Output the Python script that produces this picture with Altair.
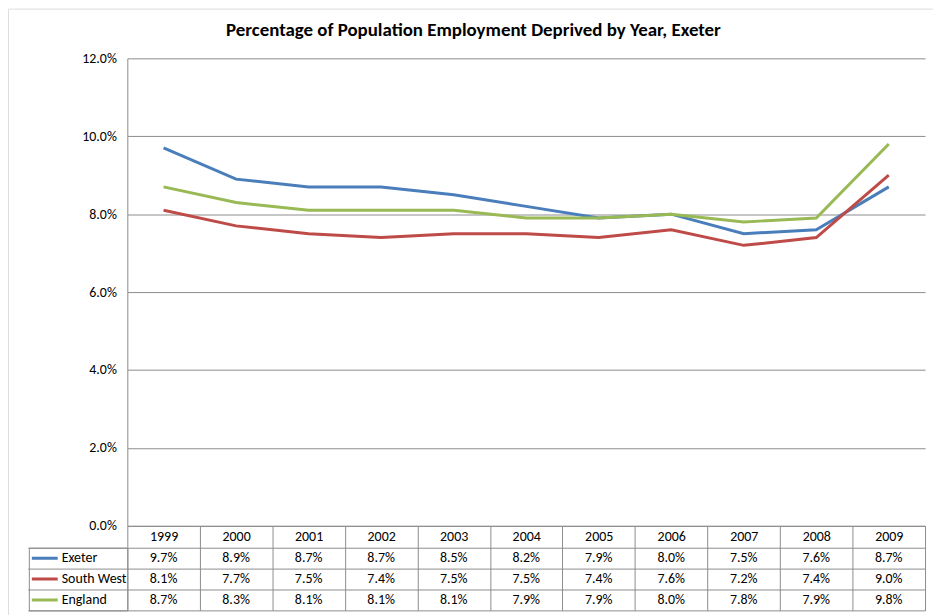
import altair as alt
import pandas as pd

# Employment deprivation rates (%) by year
years = [str(y) for y in range(1999, 2010)]
series = ["Exeter", "South West", "England"]
exeter = [9.7, 8.9, 8.7, 8.7, 8.5, 8.2, 7.9, 8.0, 7.5, 7.6, 8.7]
south_west = [8.1, 7.7, 7.5, 7.4, 7.5, 7.5, 7.4, 7.6, 7.2, 7.4, 9.0]
england = [8.7, 8.3, 8.1, 8.1, 8.1, 7.9, 7.9, 8.0, 7.8, 7.9, 9.8]
colors = ["#4A7EBB", "#BE4B48", "#98B954"]
y_ticks = [0.0, 0.02, 0.04, 0.06, 0.08, 0.10, 0.12]

FONT = "Carlito, Lato, sans-serif"
GRID = "#8c8c8c"
FRAME = "#9a9a9a"
FS = 14

# Layout inside the framed chart area (pixels from the frame's top-left corner)
PLOT_X = [120, 922]
PLOT_Y = [520, 50]
TABLE_Y = [542, 605]

records = []
for name, vals in zip(series, [exeter, south_west, england]):
    for yr, v in zip(years, vals):
        records.append({"series": name, "year": yr, "value": v / 100})
df = pd.DataFrame(records)

# Shared year scale: one band per column of the data table
x_enc = alt.X(
    "year:N",
    sort=years,
    scale=alt.Scale(type="band", domain=years, range=PLOT_X, paddingInner=0, paddingOuter=0),
    axis=alt.Axis(
        title=None,
        orient="bottom",
        offset=-92,
        domainColor=GRID,
        tickColor=GRID,
        tickSize=85,
        tickBand="extent",
        labelAngle=0,
        labelPadding=-74,
        labelBaseline="middle",
        labelFont=FONT,
        labelFontSize=FS,
        labelColor="black",
    ),
)

lines = alt.Chart(df).mark_line(strokeWidth=3).encode(
    x=x_enc,
    y=alt.Y(
        "value:Q",
        scale=alt.Scale(domain=[0, 0.12], range=PLOT_Y),
        axis=alt.Axis(
            title=None,
            orient="left",
            offset=-PLOT_X[0],
            values=y_ticks,
            format=".1%",
            grid=True,
            gridColor=GRID,
            domainColor=GRID,
            ticks=False,
            tickSize=0,
            labelPadding=11,
            labelFont=FONT,
            labelFontSize=FS,
            labelColor="black",
        ),
    ),
    color=alt.Color(
        "series:N",
        sort=series,
        scale=alt.Scale(domain=series, range=colors),
        legend=alt.Legend(
            title=None,
            orient="none",
            legendX=PLOT_X[0] - 99,
            legendY=TABLE_Y[0],
            direction="vertical",
            symbolType="stroke",
            symbolSize=676,
            symbolStrokeWidth=3,
            symbolOffset=1.5,
            clipHeight=21,
            rowPadding=0,
            labelOffset=2.5,
            labelFont=FONT,
            labelFontSize=FS,
            labelColor="black",
            padding=0,
            strokeColor=GRID,
        ),
    ),
)

# Data table rows beneath the plot
table = alt.Chart(df).mark_text(font=FONT, fontSize=FS, color="black").encode(
    x=x_enc,
    y=alt.Y(
        "series:N",
        sort=series,
        scale=alt.Scale(type="band", domain=series, range=TABLE_Y, paddingInner=0, paddingOuter=0),
        axis=alt.Axis(
            orient="left",
            offset=-PLOT_X[0],
            title=None,
            labels=False,
            domain=False,
            grid=True,
            gridColor=GRID,
            ticks=True,
            tickColor=GRID,
            tickSize=100,
            tickBand="extent",
        ),
    ),
    text=alt.Text("value:Q", format=".1%"),
)

chart = (
    alt.layer(lines, table)
    .resolve_scale(y="independent")
    .properties(
        width=930,
        height=612,
        autosize=alt.AutoSizeParams(type="none"),
        padding={"left": 8, "top": 7, "right": 0, "bottom": 0},
        title=alt.TitleParams(
            text="Percentage of Population Employment Deprived by Year, Exeter",
            font=FONT,
            fontSize=19,
            fontWeight="bold",
            color="black",
            anchor="middle",
            dx=3,
            offset=-32,
        ),
    )
    .configure_view(stroke=FRAME, strokeWidth=1)
    .configure(background="white")
)

chart.save("out.html", embed_options={"renderer": "svg", "actions": False})
